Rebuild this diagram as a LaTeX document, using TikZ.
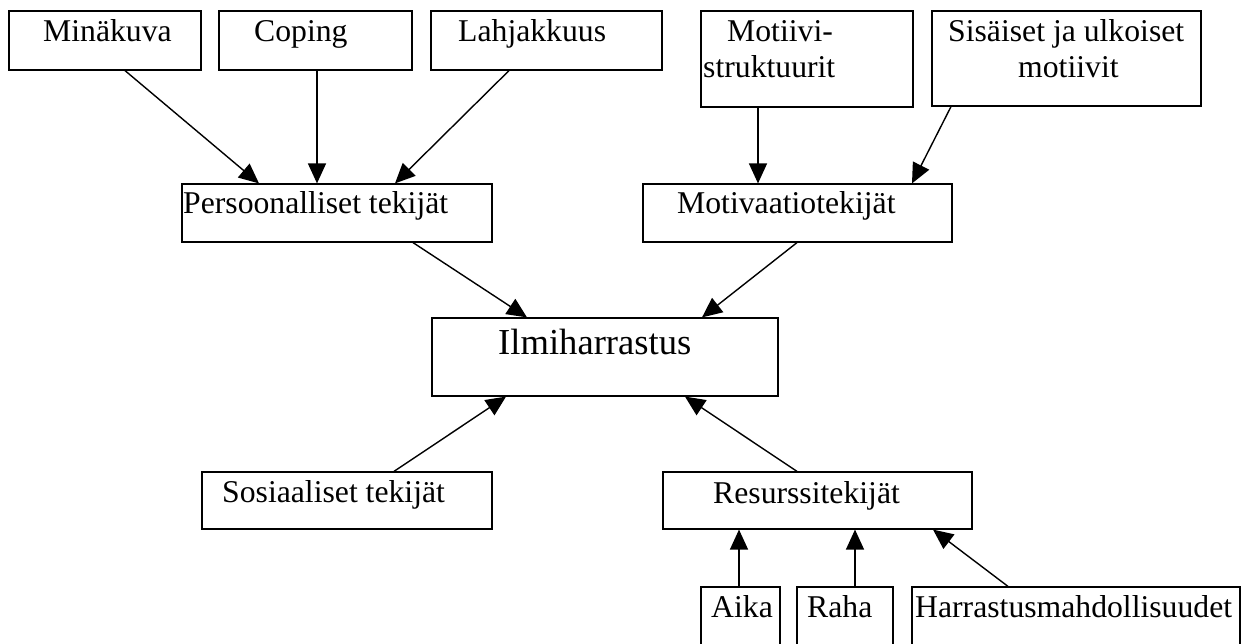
\documentclass[tikz,border=0pt]{standalone}
\usepackage{fontspec}
\setmainfont{Liberation Serif}
\usetikzlibrary{arrows.meta}
\begin{document}
\begin{tikzpicture}[x=1pt, y=-1pt,
  box/.style={draw, line width=1.2pt, inner sep=0pt, rectangle},
  txt/.style={anchor=base west, inner sep=0pt, font=\fontsize{31.7}{36}\selectfont},
  bigtxt/.style={anchor=base west, inner sep=0pt, font=\fontsize{36.6}{40}\selectfont},
  arr/.style={line width=1.4pt, -{Triangle[length=20pt,width=18pt]}}]
\useasboundingbox[fill=white] (0,0) rectangle (1252,644);
% boxes
\node[box, minimum width=192pt, minimum height=59pt] (mina) at (105,40.5) {};
\node[box, minimum width=193pt, minimum height=59pt] (coping) at (315.5,40.5) {};
\node[box, minimum width=231pt, minimum height=59pt] (lahja) at (546.5,40.5) {};
\node[box, minimum width=212pt, minimum height=96pt] (motiivi) at (807,59) {};
\node[box, minimum width=269pt, minimum height=95pt] (sisa) at (1066.5,58.5) {};
\node[box, minimum width=310pt, minimum height=58pt] (pers) at (337,213) {};
\node[box, minimum width=309pt, minimum height=58pt] (motiv) at (797.5,213) {};
\node[box, minimum width=346pt, minimum height=78pt] (ilmi) at (605,357) {};
\node[box, minimum width=290pt, minimum height=57pt] (sosi) at (347,500.5) {};
\node[box, minimum width=309pt, minimum height=57pt] (resurs) at (817.5,500.5) {};
\node[box, minimum width=79pt, minimum height=77pt] (aika) at (740.5,625.5) {};
\node[box, minimum width=96pt, minimum height=77pt] (raha) at (845,625.5) {};
\node[box, minimum width=328pt, minimum height=77pt] (harr) at (1076,625.5) {};
% texts
\node[txt] (tmina) at (43,42) {Minäkuva};
\node[txt] (tcoping) at (254,42) {Coping};
\node[txt] (tlahja) at (458,42) {Lahjakkuus};
\node[txt] (tmot1) at (727,42) {Motiivi-};
\node[txt] (tmot2) at (703,78) {struktuurit};
\node[txt] (tsisa1) at (948,42) {Sisäiset ja ulkoiset};
\node[txt] (tsisa2) at (1018,78) {motiivit};
\node[txt] (tpers) at (183,214) {Persoonalliset tekijät};
\node[txt] (tmotiv) at (677,214) {Motivaatiotekijät};
\node[bigtxt] (tilmi) at (498,354) {Ilmiharrastus};
\node[txt] (tsosi) at (222,502) {Sosiaaliset tekijät};
\node[txt] (tresurs) at (713,503) {Resurssitekijät};
\node[txt] (taika) at (711,617) {Aika};
\node[txt] (traha) at (807,617) {Raha};
\node[txt] (tharr) at (915,617) {Harrastusmahdollisuudet};
% connectors
\draw[arr] (mina.south -| 125,0) -- (pers.north -| 259,0);
\draw[arr] (coping.south -| 317,0) -- (pers.north -| 317,0);
\draw[arr] (lahja.south -| 509,0) -- (pers.north -| 395,0);
\draw[arr] (motiivi.south -| 758,0) -- (motiv.north -| 758,0);
\draw[arr] (sisa.south -| 951,0) -- (motiv.north -| 912,0);
\draw[arr] (pers.south -| 413,0) -- (ilmi.north -| 527,0);
\draw[arr] (motiv.south -| 797,0) -- (ilmi.north -| 702,0);
\draw[arr] (sosi.north -| 394,0) -- (ilmi.south -| 506,0);
\draw[arr] (resurs.north -| 797,0) -- (ilmi.south -| 685,0);
\draw[arr] (aika.north -| 739,0) -- (resurs.south -| 739,0);
\draw[arr] (raha.north -| 855,0) -- (resurs.south -| 855,0);
\draw[arr] (harr.north -| 1008,0) -- (resurs.south -| 933,0);
\end{tikzpicture}
\end{document}
